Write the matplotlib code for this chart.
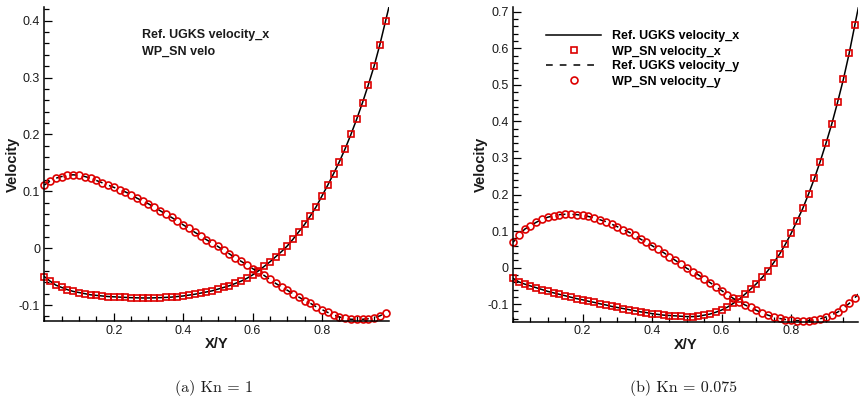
import matplotlib.pyplot as plt
from matplotlib.ticker import MultipleLocator, FixedLocator, FuncFormatter

plt.rcParams['font.family'] = 'Liberation Sans'

# sample positions (60 points along the centreline)
x = [0.0, 0.0167, 0.0333, 0.05, 0.0667, 0.0833, 0.1, 0.1167, 0.1333, 0.15,
     0.1667, 0.1833, 0.2, 0.2167, 0.2333, 0.25, 0.2667, 0.2833, 0.3, 0.3167,
     0.3333, 0.35, 0.3667, 0.3833, 0.4, 0.4167, 0.4333, 0.45, 0.4667, 0.4833,
     0.5, 0.5167, 0.5333, 0.55, 0.5667, 0.5833, 0.6, 0.6167, 0.6333, 0.65,
     0.6667, 0.6833, 0.7, 0.7167, 0.7333, 0.75, 0.7667, 0.7833, 0.8, 0.8167,
     0.8333, 0.85, 0.8667, 0.8833, 0.9, 0.9167, 0.9333, 0.95, 0.9667, 0.9833]
x_ref = x + [1.0]

# (a) Kn = 1
wp_vx_a = [-0.050, -0.058, -0.065, -0.069, -0.073, -0.076, -0.078, -0.080, -0.082, -0.083,
           -0.084, -0.085, -0.0855, -0.086, -0.0865, -0.087, -0.0873, -0.0875, -0.0875, -0.0873,
           -0.087, -0.0865, -0.086, -0.085, -0.084, -0.0825, -0.081, -0.079, -0.077, -0.075,
           -0.072, -0.069, -0.066, -0.062, -0.058, -0.053, -0.047, -0.040, -0.032, -0.024,
           -0.015, -0.006, 0.004, 0.016, 0.029, 0.042, 0.057, 0.073, 0.092, 0.111,
           0.131, 0.152, 0.175, 0.200, 0.227, 0.256, 0.287, 0.320, 0.358, 0.400]
wp_vy_a = [0.111, 0.118, 0.123, 0.126, 0.128, 0.129, 0.128, 0.126, 0.123, 0.119,
           0.115, 0.111, 0.107, 0.103, 0.099, 0.094, 0.088, 0.083, 0.078, 0.072,
           0.066, 0.060, 0.054, 0.048, 0.041, 0.035, 0.028, 0.022, 0.015, 0.009,
           0.003, -0.004, -0.010, -0.017, -0.023, -0.029, -0.036, -0.042, -0.048, -0.055,
           -0.062, -0.068, -0.074, -0.080, -0.086, -0.092, -0.097, -0.103, -0.108, -0.113,
           -0.117, -0.121, -0.123, -0.125, -0.125, -0.125, -0.124, -0.122, -0.119, -0.114]
ref_vx_a = wp_vx_a + [0.442]
ref_vy_a = wp_vy_a + [-0.109]

# (b) Kn = 0.075
wp_vx_b = [-0.029, -0.039, -0.045, -0.050, -0.055, -0.060, -0.065, -0.069, -0.073, -0.077,
           -0.081, -0.085, -0.088, -0.092, -0.095, -0.099, -0.102, -0.106, -0.109, -0.112,
           -0.115, -0.118, -0.121, -0.123, -0.126, -0.128, -0.130, -0.131, -0.132, -0.133,
           -0.134, -0.134, -0.133, -0.130, -0.127, -0.122, -0.116, -0.108, -0.098, -0.087,
           -0.073, -0.059, -0.044, -0.027, -0.008, 0.014, 0.037, 0.064, 0.094, 0.128,
           0.162, 0.2015, 0.244, 0.290, 0.340, 0.393, 0.452, 0.515, 0.586, 0.665]
wp_vy_b = [0.069, 0.089, 0.105, 0.115, 0.124, 0.132, 0.138, 0.142, 0.145, 0.146,
           0.146, 0.145, 0.143, 0.140, 0.136, 0.131, 0.126, 0.119, 0.112, 0.104,
           0.097, 0.088, 0.078, 0.069, 0.060, 0.050, 0.041, 0.030, 0.020, 0.009,
           -0.002, -0.011, -0.020, -0.031, -0.041, -0.052, -0.063, -0.074, -0.084, -0.093,
           -0.102, -0.109, -0.117, -0.124, -0.130, -0.135, -0.139, -0.142, -0.144, -0.145,
           -0.145, -0.145, -0.143, -0.140, -0.135, -0.129, -0.122, -0.111, -0.098, -0.082]
ref_vx_b = wp_vx_b + [0.744]
ref_vy_b = wp_vy_b + [-0.066]

red = '#dd0000'
txt = '#1a1a1a'


def tec_fmt(v, pos):
    v = round(v, 6)
    return '0' if v == 0 else '{:g}'.format(v)


fig = plt.figure(figsize=(8.66, 4.03), dpi=100)
ax1 = fig.add_axes([0.0512, 0.2035, 0.398, 0.7791])
ax2 = fig.add_axes([0.5924, 0.2017, 0.3987, 0.7817])

for ax, vx, vy, rvx, rvy, ylim in [(ax1, wp_vx_a, wp_vy_a, ref_vx_a, ref_vy_a, (-0.128, 0.424)),
                                   (ax2, wp_vx_b, wp_vy_b, ref_vx_b, ref_vy_b, (-0.148, 0.714))]:
    ax.plot(x_ref, rvx, '-', color='black', lw=1.1, label='Ref. UGKS velocity_x')
    ax.plot(x, vx, 's', mfc='none', mec=red, mew=1.2, ms=3.9, clip_on=False,
            label='WP_SN velocity_x')
    ax.plot(x_ref, rvy, color='black', lw=1.1, ls=(0, (4.4, 4.6)), label='Ref. UGKS velocity_y')
    ax.plot(x, vy, 'o', mfc='none', mec=red, mew=1.2, ms=5.0, clip_on=False,
            label='WP_SN velocity_y')

    ax.set_xlim(0, 0.993)
    ax.set_ylim(*ylim)
    for s in ['top', 'right']:
        ax.spines[s].set_visible(False)
    for s in ['left', 'bottom']:
        ax.spines[s].set_linewidth(1.1)
    ax.xaxis.set_major_locator(FixedLocator([0.2, 0.4, 0.6, 0.8]))
    ax.xaxis.set_minor_locator(MultipleLocator(0.05))
    ax.yaxis.set_major_locator(MultipleLocator(0.1))
    ax.yaxis.set_minor_locator(MultipleLocator(0.02))
    ax.xaxis.set_major_formatter(FuncFormatter(tec_fmt))
    ax.yaxis.set_major_formatter(FuncFormatter(tec_fmt))
    ax.tick_params(which='both', direction='in', width=0.9, labelsize=9, labelcolor=txt,
                   top=False, right=False)
    ax.tick_params(which='major', length=5.5)
    ax.tick_params(which='minor', length=3.3)
    ax.tick_params(axis='x', pad=2.6)
    ax.tick_params(axis='y', pad=3.1)

    ax.set_xlabel('X/Y', fontsize=10.5, fontweight='bold', color=txt, va='top')
    ax.set_ylabel('Velocity', fontsize=10.5, fontweight='bold', color=txt)
    ax.xaxis.set_label_coords(0.5, -0.051)
    ax.yaxis.set_label_coords(-0.072, 0.5)

# truncated legend in the first panel
fig.text(141.7 / 866, 1 - 38.3 / 403, 'Ref. UGKS velocity_x', fontsize=9,
         fontweight='bold', color=txt, va='baseline')
fig.text(142.3 / 866, 1 - 54.3 / 403, 'WP_SN velo', fontsize=9,
         fontweight='bold', color=txt, va='baseline')

ax2.legend(loc='upper left', bbox_to_anchor=(546 / 866, 1 - 30.5 / 403),
           bbox_transform=fig.transFigure, frameon=False, numpoints=1,
           handlelength=4.4, handletextpad=0.9, labelspacing=0.24,
           borderpad=0, borderaxespad=0,
           prop={'weight': 'bold', 'size': 9})

fig.text(214 / 866, 1 - 388 / 403, '(a) Kn = 1', fontsize=11.5, family='cmr10',
         ha='center', va='center', color=txt)
fig.text(683 / 866, 1 - 388 / 403, '(b) Kn = 0.075', fontsize=11.5, family='cmr10',
         ha='center', va='center', color=txt)

fig.savefig('out.png', dpi=100)
